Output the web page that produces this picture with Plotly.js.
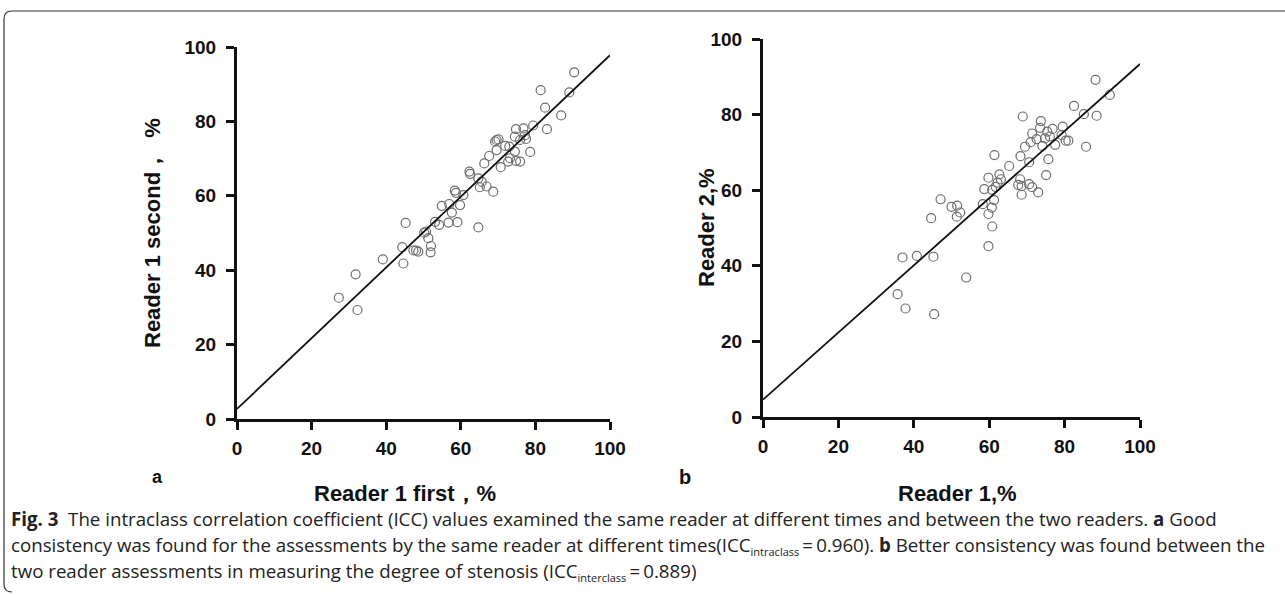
<!DOCTYPE html>
<html>
<head>
<meta charset="utf-8">
<script src="https://cdn.plot.ly/plotly-3.0.1.min.js"></script>
<style>html,body{margin:0;padding:0;background:#fff;}#chart{width:1285px;height:595px;}</style>
</head>
<body>
<div id="chart"></div>
<script>
// Panel a: Reader 1 first (x) vs Reader 1 second (y)
const aFirst = [90.4,81.4,89.1,82.6,86.9,83.1,79.4,74.8,76.8,77.2,77.5,75.9,74.5,78.6,69.6,69.2,70.1,71.9,73.0,69.6,74.5,73.2,74.8,75.9,72.7,70.7,67.6,66.3,62.3,62.5,64.7,65.6,66.9,65.1,68.7,58.4,58.7,60.7,54.9,56.9,59.8,57.6,53.1,54.2,56.7,59.1,45.2,64.7,50.2,50.7,51.3,52.0,51.9,44.3,47.3,48.6,48.0,39.1,44.6,31.8,27.3,32.3];
const aSecond = [93.2,88.4,87.8,83.7,81.6,77.9,78.9,77.9,78.1,76.3,75.3,75.0,75.9,71.8,75.0,74.6,75.2,73.4,73.2,72.3,71.9,70.1,69.4,69.2,69.2,67.7,70.7,68.7,66.5,65.9,64.7,63.8,62.5,62.3,61.1,61.4,60.8,60.2,57.3,57.8,57.5,55.5,53.0,52.2,52.8,52.9,52.7,51.5,50.1,50.4,48.6,46.5,44.8,46.2,45.3,45.0,45.3,42.9,41.8,38.9,32.6,29.3];
const aFitX = [0, 100];
const aFitY = [2.7, 97.8];

// Panel b: Reader 1 (x) vs Reader 2 (y)
const bReader1 = [88.2,92.0,82.5,85.1,88.5,85.7,68.9,73.7,73.5,76.8,75.4,79.5,71.4,72.6,71.0,74.8,76.1,79.2,80.3,81.0,77.5,74.1,69.5,68.3,61.4,70.6,75.7,65.3,75.1,62.7,59.8,63.1,62.2,68.2,67.7,68.6,70.6,71.4,58.7,61.7,60.8,73.0,68.6,47.1,61.3,50.0,51.5,58.3,60.7,52.3,51.4,59.8,44.6,60.8,59.8,37.0,40.8,45.2,53.9,35.7,37.8,45.4];
const bReader2 = [89.2,85.2,82.3,80.1,79.7,71.5,79.5,78.3,76.5,76.2,75.5,76.8,75.0,73.5,72.7,73.7,74.2,74.6,73.1,73.1,72.0,71.7,71.5,69.0,69.3,67.4,68.2,66.4,64.0,64.2,63.3,62.9,62.0,62.9,61.4,61.1,61.6,60.8,60.3,60.9,60.1,59.4,58.8,57.6,57.4,55.6,55.9,56.3,55.4,54.1,53.0,53.7,52.6,50.4,45.2,42.2,42.6,42.4,36.9,32.5,28.7,27.2];
const bFitX = [0, 100];
const bFitY = [4.6, 93.4];

const tickVals = [0, 20, 40, 60, 80, 100];
const tickText = ['0', '20', '40', '60', '80', '100'];

const titles = {
  ax: 'Reader 1 first，%',
  ay: 'Reader 1 second，  %',
  bx: 'Reader 1,%',
  by: 'Reader 2,%'
};

const captionLines = [
  '<b>Fig. 3</b>  The intraclass correlation coefficient (ICC) values examined the same reader at different times and between the two readers. <b>a</b> Good',
  'consistency was found for the assessments by the same reader at different times(ICC<sub><span style="font-size:11px">intraclass</span></sub>\u2009=\u20090.960). <b>b</b> Better consistency was found between the',
  'two reader assessments in measuring the degree of stenosis (ICC<sub><span style="font-size:11px">interclass</span></sub>\u2009=\u20090.889)'
];

const markerStyle = {symbol: 'circle-open', size: 9, color: '#6e6e6e', line: {width: 1.2, color: '#6e6e6e'}};
const fitStyle = {color: '#111', width: 1.8};

const traces = [
  {x: aFirst, y: aSecond, xaxis: 'x', yaxis: 'y', mode: 'markers', type: 'scatter', marker: markerStyle, cliponaxis: false, hoverinfo: 'x+y'},
  {x: aFitX, y: aFitY, xaxis: 'x', yaxis: 'y', mode: 'lines', type: 'scatter', line: fitStyle, hoverinfo: 'skip'},
  {x: bReader1, y: bReader2, xaxis: 'x2', yaxis: 'y2', mode: 'markers', type: 'scatter', marker: markerStyle, cliponaxis: false, hoverinfo: 'x+y'},
  {x: bFitX, y: bFitY, xaxis: 'x2', yaxis: 'y2', mode: 'lines', type: 'scatter', line: fitStyle, hoverinfo: 'skip'}
];

const tickFont = {family: 'Liberation Sans, Arial, sans-serif', size: 19, color: '#111', weight: 'bold'};
function axis(domain, anchor, standoff) {
  return {
    domain: domain, anchor: anchor, range: [0, 100], autorange: false,
    tickvals: tickVals, ticktext: tickText,
    showgrid: false, zeroline: false,
    showline: true, linecolor: '#111', linewidth: 3,
    ticks: 'outside', ticklen: 8, tickwidth: 3, tickcolor: '#111',
    ticklabelstandoff: standoff,
    tickfont: tickFont, fixedrange: true
  };
}

const W = 1285, H = 595;
const px = v => v / W;
const py = v => 1 - v / H;

const titleFont = {family: 'Liberation Sans, Arial, sans-serif', size: 22, color: '#111', weight: 'bold'};
const capFont = {family: 'Open Sans, Noto Sans, sans-serif', size: 18.7, color: '#222'};

const annotations = [
  {text: titles.ax, x: px(405), y: py(493), xref: 'paper', yref: 'paper', showarrow: false, font: titleFont, xanchor: 'center', yanchor: 'middle'},
  {text: titles.ay, x: px(153), y: py(233), xref: 'paper', yref: 'paper', showarrow: false, font: titleFont, textangle: -90, xanchor: 'center', yanchor: 'middle'},
  {text: titles.bx, x: px(957), y: py(493), xref: 'paper', yref: 'paper', showarrow: false, font: titleFont, xanchor: 'center', yanchor: 'middle'},
  {text: titles.by, x: px(707), y: py(228), xref: 'paper', yref: 'paper', showarrow: false, font: titleFont, textangle: -90, xanchor: 'center', yanchor: 'middle'},
  {text: 'a', x: px(157), y: py(477), xref: 'paper', yref: 'paper', showarrow: false, font: {family: 'Liberation Sans, Arial, sans-serif', size: 18, color: '#111', weight: 'bold'}, xanchor: 'center', yanchor: 'middle'},
  {text: 'b', x: px(685), y: py(477), xref: 'paper', yref: 'paper', showarrow: false, font: {family: 'Liberation Sans, Arial, sans-serif', size: 20, color: '#111', weight: 'bold'}, xanchor: 'center', yanchor: 'middle'}
];
const capY = [518, 545, 571];
captionLines.forEach((t, i) => {
  annotations.push({text: t, x: px(9), y: py(capY[i]), xref: 'paper', yref: 'paper', showarrow: false, font: capFont, xanchor: 'left', yanchor: 'middle', align: 'left'});
});

const shapes = [
  {type: 'path', xref: 'paper', yref: 'paper', path: 'M ' + px(1290) + ',' + py(11) + ' L ' + px(12) + ',' + py(11) + ' Q ' + px(4) + ',' + py(11) + ' ' + px(4) + ',' + py(19) + ' L ' + px(4) + ',' + py(584) + ' Q ' + px(4) + ',' + py(592) + ' ' + px(12) + ',' + py(592), line: {color: '#333', width: 1.2}}
];

const layout = {
  width: W, height: H,
  margin: {l: 0, r: 0, t: 0, b: 0},
  paper_bgcolor: '#fff', plot_bgcolor: '#fff',
  showlegend: false,
  xaxis: axis([px(237), px(610)], 'y', 2),
  yaxis: axis([py(419), py(47)], 'x', 6),
  xaxis2: axis([px(763), px(1140)], 'y2', 2),
  yaxis2: axis([py(417), py(39)], 'x2', 6),
  annotations: annotations,
  shapes: shapes
};

Plotly.newPlot('chart', traces, layout, {displayModeBar: false, staticPlot: true});
</script>
</body>
</html>
